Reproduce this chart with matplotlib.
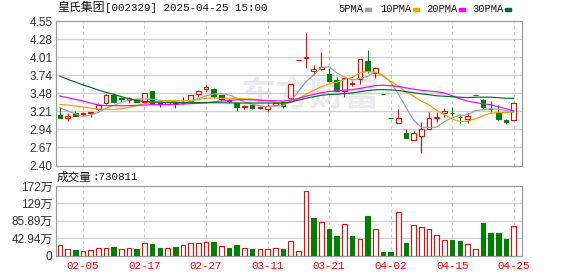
import numpy as np
import pandas as pd
import matplotlib
matplotlib.use('Agg')
import matplotlib.pyplot as plt

# ---------------- data ----------------
holidays = ['2025-01-28', '2025-01-29', '2025-01-30', '2025-01-31',
            '2025-02-03', '2025-02-04', '2025-04-04']
days = pd.bdate_range('2025-01-23', '2025-04-25')
days = days[~days.isin(pd.to_datetime(holidays))]
dates = [d.strftime('%m-%d') for d in days]

opens = [3.15, 3.10, 3.18, 3.17, 3.177, 3.24, 3.334, 3.45, 3.40, 3.38,
         3.385, 3.35, 3.508, 3.335, 3.315, 3.334, 3.325, 3.364, 3.46, 3.534,
         3.54, 3.45, 3.37, 3.325, 3.27, 3.30, 3.26, 3.235, 3.30, 3.34,
         3.41, 3.97, 3.995, 3.81, 3.83, 3.76, 3.672, 3.51, 3.615, 3.68,
         3.955, 3.78, 3.46, 3.11, 3.028, 2.88, 2.78, 2.84, 2.943, 3.10,
         3.177, 3.18, 3.12, 3.09, 3.45, 3.375, 3.24, 3.186, 3.077, 3.077]
highs = [3.27, 3.18, 3.215, 3.20, 3.20, 3.337, 3.46, 3.475, 3.415, 3.425,
         3.405, 3.474, 3.51, 3.34, 3.35, 3.34, 3.415, 3.445, 3.53, 3.593,
         3.55, 3.45, 3.39, 3.33, 3.30, 3.30, 3.285, 3.315, 3.34, 3.35,
         3.62, 3.97, 4.37, 3.895, 4.093, 3.845, 3.71, 3.71, 3.66, 3.98,
         4.12, 3.87, 3.46, 3.11, 3.236, 2.943, 2.918, 3.05, 3.19, 3.19,
         3.25, 3.266, 3.16, 3.177, 3.45, 3.39, 3.36, 3.30, 3.09, 3.325]
lows = [3.11, 3.067, 3.13, 3.137, 3.126, 3.215, 3.315, 3.335, 3.345, 3.335,
        3.34, 3.325, 3.32, 3.275, 3.30, 3.26, 3.32, 3.335, 3.42, 3.498,
        3.41, 3.36, 3.33, 3.215, 3.245, 3.245, 3.235, 3.19, 3.28, 3.26,
        3.40, 3.97, 3.855, 3.745, 3.82, 3.645, 3.505, 3.425, 3.585, 3.62,
        3.78, 3.70, 3.46, 3.11, 3.028, 2.805, 2.78, 2.59, 2.94, 3.05,
        3.126, 3.14, 3.03, 3.028, 3.45, 3.236, 3.20, 3.077, 3.013, 3.077]
closes = [3.11, 3.14, 3.137, 3.18, 3.20, 3.296, 3.449, 3.35, 3.39, 3.40,
          3.34, 3.474, 3.325, 3.31, 3.345, 3.31, 3.35, 3.445, 3.513, 3.572,
          3.43, 3.385, 3.36, 3.266, 3.29, 3.26, 3.265, 3.285, 3.335, 3.29,
          3.62, 3.97, 4.02, 3.835, 3.86, 3.66, 3.51, 3.705, 3.625, 3.98,
          3.81, 3.846, 3.46, 3.11, 3.10, 2.805, 2.88, 2.95, 3.10, 3.12,
          3.21, 3.175, 3.115, 3.136, 3.45, 3.275, 3.236, 3.087, 3.043, 3.325]
# volume in 万
volumes = [24.8, 16.5, 12.4, 9.9, 14.0, 19.0, 19.0, 20.7, 14.9, 17.4,
           14.9, 29.8, 27.3, 17.4, 17.4, 19.9, 24.8, 31.4, 31.4, 33.0,
           33.0, 22.3, 17.4, 24.8, 17.4, 14.9, 14.9, 14.9, 17.4, 14.9,
           36.5, 11.6, 158.8, 92.6, 81.9, 64.5, 47.1, 76.9, 47.1, 41.4,
           97.6, 64.5, 8.3, 8.3, 106.7, 30.6, 74.4, 69.5, 64.5, 49.6,
           38.9, 37.2, 35.6, 27.3, 16.5, 80.2, 55.4, 55.4, 39.7, 73.0811]
vol_up = [1, 1, 0, 1, 1, 1, 1, 0, 1, 1,
          0, 1, 0, 0, 1, 0, 1, 1, 1, 1,
          0, 1, 0, 0, 1, 0, 1, 1, 1, 0,
          1, 1, 1, 0, 1, 0, 0, 1, 0, 1,
          0, 1, 0, 0, 1, 0, 1, 1, 1, 1,
          1, 0, 0, 1, 1, 0, 0, 0, 0, 1]

ma5_head = [3.265, 3.21, 3.17, 3.13]
ma10_head = [3.31, 3.30, 3.285, 3.27, 3.255, 3.24, 3.236, 3.236, 3.245]
ma20_head = [3.434, 3.41, 3.385, 3.36, 3.33, 3.30, 3.29, 3.29, 3.29, 3.29,
             3.295, 3.30, 3.305, 3.305, 3.31, 3.31, 3.315, 3.32, 3.325]
ma30_head = [3.73, 3.683, 3.642, 3.598, 3.563, 3.523, 3.489, 3.459, 3.424, 3.394,
             3.368, 3.352, 3.345, 3.34, 3.338, 3.336, 3.335, 3.335, 3.335, 3.335,
             3.334, 3.333, 3.332, 3.33, 3.33, 3.33, 3.33, 3.33, 3.33]

tick_dates = ['02-05', '02-17', '02-27', '03-11', '03-21', '04-02', '04-15', '04-25']
price_tick_labels = ['2.40', '2.67', '2.94', '3.21', '3.48', '3.74', '4.01', '4.28', '4.55']
price_min, price_max = 2.40, 4.55
vol_ticks = [0, 42.94, 85.89, 128.83, 171.78]
vol_tick_labels = ['0', '42.94万', '85.89万', '129万', '172万']

stock_name = '皇氏集团'
title_rest = '[002329] 2025-04-25 15:00'
vol_name = '成交量'
ma_names = ['5PMA', '10PMA', '20PMA', '30PMA']

# ---------------- styling ----------------
RED = '#ff0000'
GREEN = '#008000'
MA_COLORS = ['#a0a0a0', '#f0a000', '#ff00ff', '#006a2e']
GRID = '#cfcfcf'
FRAME = '#9a9a9a'
TXT = '#333333'

W, H = 578, 276
fig = plt.figure(figsize=(W / 100, H / 100), dpi=100)
fig.patch.set_facecolor('white')


def fx(px):
    return px / W


def fy(py):
    return 1 - py / H


ax = fig.add_axes([fx(56), fy(165.5), fx(522) - fx(56), fy(21) - fy(165.5)])
axv = fig.add_axes([fx(56), fy(255.5), fx(522) - fx(56), fy(186) - fy(255.5)])

O = np.array(opens)
Hh = np.array(highs)
L = np.array(lows)
C = np.array(closes)
n = len(C)
x = np.arange(n)
prev = np.r_[O[0], C[:-1]]
up = (C > O) | ((C == O) & (C >= prev))


def moving_avg(win, head):
    r = pd.Series(closes).rolling(win).mean().to_numpy()
    r[:win - 1] = head
    return r


mas = [moving_avg(5, ma5_head), moving_avg(10, ma10_head),
       moving_avg(20, ma20_head), moving_avg(30, ma30_head)]

tick_pos = [dates.index(d) for d in tick_dates]
xlim = (-0.5, 60.08)

# ---- price axes ----
ax.set_xlim(*xlim)
ax.set_ylim(price_min, price_max)
pt = np.linspace(price_min, price_max, len(price_tick_labels))
for v in pt[1:-1]:
    ax.axhline(v, color=GRID, lw=0.9, zorder=0.6)
for p in tick_pos:
    ax.axvline(p, color='#c8c8c8', lw=0.75, ls=(0, (3, 3)), zorder=0.6)

ax.text(fx(310), fy(95), '东方财富', transform=fig.transFigure, ha='center', va='center',
        fontsize=25, fontweight='bold', color='#e9e9ee', family='Noto Sans CJK SC', zorder=0.5)

cols = np.where(up, RED, GREEN)
faces = np.where(up, 'white', GREEN)
ax.vlines(x, L, Hh, colors=cols, lw=0.8, zorder=2)
bottoms = np.minimum(O, C)
heights = np.abs(C - O)
ax.bar(x, heights, bottom=bottoms, width=0.6, color=faces, edgecolor=cols,
       linewidth=0.8, zorder=3)

for m, c in zip(mas, MA_COLORS):
    ax.plot(x, m, color=c, lw=0.85, zorder=4)

ax.set_yticks(pt)
ax.set_yticklabels(price_tick_labels, family='Liberation Sans', fontsize=8.5, color=TXT)
ax.set_xticks([])
ax.tick_params(axis='y', length=0, pad=2.5)
for s in ax.spines.values():
    s.set_color(FRAME)
    s.set_linewidth(0.9)

# ---- volume axes ----
axv.set_xlim(*xlim)
axv.set_ylim(0, vol_ticks[-1])
for v in vol_ticks[1:-1]:
    axv.axhline(v, color=GRID, lw=0.9, zorder=0.6)
for p in tick_pos:
    axv.axvline(p, color='#c8c8c8', lw=0.75, ls=(0, (3, 3)), zorder=0.6)
vu = np.array(vol_up, dtype=bool)
vcols = np.where(vu, RED, GREEN)
vfaces = np.where(vu, 'white', GREEN)
axv.bar(x, volumes, width=0.6, color=vfaces, edgecolor=vcols, linewidth=0.8, zorder=3)
axv.set_yticks(vol_ticks)
axv.set_yticklabels(vol_tick_labels, family=['Liberation Sans', 'Noto Sans CJK SC'],
                    fontsize=8.5, color=TXT)
axv.set_xticks(tick_pos)
axv.set_xticklabels(tick_dates, family='Liberation Mono', fontsize=7.8, color=RED)
axv.tick_params(axis='y', length=0, pad=2.5)
axv.tick_params(axis='x', length=0, pad=4)
for s in axv.spines.values():
    s.set_color(FRAME)
    s.set_linewidth(0.9)

# ---- header texts ----
fig.text(fx(57), fy(8), stock_name, family='Noto Sans CJK SC', fontsize=8.6,
         color='#111111', ha='left', va='center')
fig.text(fx(105), fy(8), title_rest, family='Liberation Mono', fontsize=7.8,
         color='#111111', ha='left', va='center')

fig.text(fx(57), fy(177), vol_name, family='Noto Sans CJK SC', fontsize=8.4,
         color='#111111', ha='left', va='center')
fig.text(fx(92), fy(177), ':%d' % round(volumes[-1] * 10000), family='Liberation Mono',
         fontsize=7.8, color='#111111', ha='left', va='center')

# legend
leg_x = [338, 380, 426, 472]
for lx, name, c in zip(leg_x, ma_names, MA_COLORS):
    t = fig.text(fx(lx), fy(9), name, family='Liberation Mono', fontsize=7.6,
                 color='#111111', ha='left', va='center')
    sq_x = lx + 6.2 * len(name) + 2
    fig.patches.append(plt.Rectangle((fx(sq_x), fy(11)), fx(6), 3.5 / H,
                                     transform=fig.transFigure, color=c, figure=fig))

fig.savefig('out.png', dpi=100)
